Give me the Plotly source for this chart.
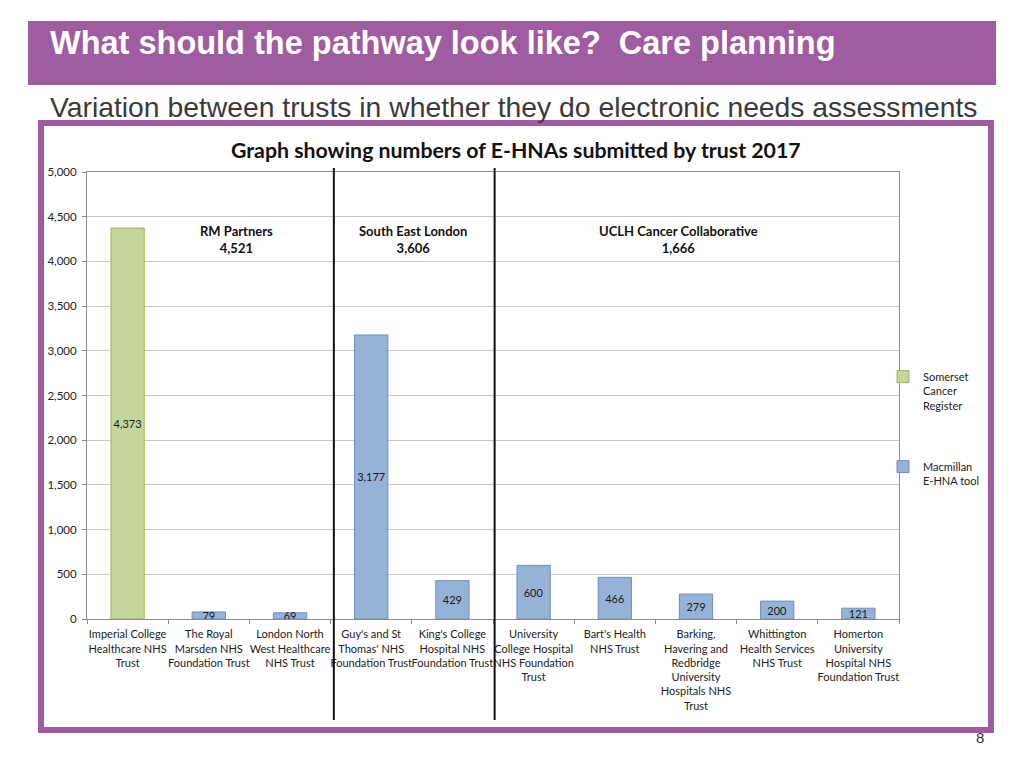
import plotly.graph_objects as go

categories = [
    "Imperial College<br>Healthcare NHS<br>Trust",
    "The Royal<br>Marsden NHS<br>Foundation Trust",
    "London North<br>West Healthcare<br>NHS Trust",
    "Guy's and St<br>Thomas' NHS<br>Foundation Trust",
    "King's College<br>Hospital NHS<br>Foundation Trust",
    "University<br>College Hospital<br>NHS Foundation<br>Trust",
    "Bart's Health<br>NHS Trust",
    "Barking,<br>Havering and<br>Redbridge<br>University<br>Hospitals NHS<br>Trust",
    "Whittington<br>Health Services<br>NHS Trust",
    "Homerton<br>University<br>Hospital NHS<br>Foundation Trust",
]
somerset = [4373, None, None, None, None, None, None, None, None, None]
macmillan = [None, 79, 69, 3177, 429, 600, 466, 279, 200, 121]

groups = ["RM Partners", "South East London", "UCLH Cancer Collaborative"]
group_totals = ["4,521", "3,606", "1,666"]
group_label_x = [1.335, 3.51, 6.79]
group_dividers = [2.54, 4.52]

yticks = [0, 500, 1000, 1500, 2000, 2500, 3000, 3500, 4000, 4500, 5000]

PURPLE = "#A05CA0"
OFF = 8  # page body margin
W, H = 1024 - OFF, 768 - OFF
# plot area in screen (reference) pixels
SL, SR, ST, SB = 87, 899, 172, 619


def px2x(px):
    return (px - SL) / (SR - SL)


def py2y(py):
    return (SB - py) / (SB - ST)


def fmt(v):
    return "" if v is None else f"{v:,}"


fig = go.Figure()
fig.add_trace(go.Bar(
    x=categories, y=somerset, name="Somerset<br>Cancer<br>Register",
    marker=dict(color="#C3D69B", line=dict(color="#98B954", width=1)),
    width=0.41, text=[fmt(v) for v in somerset], textposition="inside",
    insidetextanchor="middle", textangle=0,
    textfont=dict(family="Lato", size=11, color="#1a1a1a"),
    legend="legend", showlegend=True,
))
fig.add_trace(go.Bar(
    x=categories, y=macmillan, name="Macmillan<br>E-HNA tool",
    marker=dict(color="#95B3D7", line=dict(color="#6F8FC0", width=1)),
    width=0.41, text=[fmt(v) for v in macmillan], textposition="inside",
    insidetextanchor="middle", textangle=0,
    textfont=dict(family="Lato", size=11, color="#1a1a1a"),
    legend="legend2", showlegend=True,
))

shapes = [
    dict(type="rect", xref="paper", yref="paper",
         x0=px2x(28), x1=px2x(996), y0=py2y(85), y1=py2y(21),
         fillcolor=PURPLE, line=dict(width=0), layer="below"),
    dict(type="rect", xref="paper", yref="paper",
         x0=px2x(41), x1=px2x(991), y0=py2y(730), y1=py2y(123),
         fillcolor="rgba(0,0,0,0)", line=dict(color=PURPLE, width=6), layer="below"),
]
for xd in group_dividers:
    shapes.append(dict(type="line", xref="x", yref="paper",
                       x0=xd, x1=xd, y0=py2y(720), y1=py2y(168),
                       line=dict(color="#111111", width=2)))

annotations = [
    dict(text="<b>What should the pathway look like?\u00a0 Care planning</b>",
         xref="paper", yref="paper", x=px2x(48), y=py2y(43),
         xanchor="left", yanchor="middle", showarrow=False,
         font=dict(family="Liberation Sans", size=32.5, color="white")),
    dict(text="Variation between trusts in whether they do electronic needs assessments",
         xref="paper", yref="paper", x=px2x(48), y=py2y(107),
         xanchor="left", yanchor="middle", showarrow=False,
         font=dict(family="Liberation Sans", size=28.3, color="#3A3A3A")),
    dict(text="<b>Graph showing numbers of E-HNAs submitted by trust 2017</b>",
         xref="paper", yref="paper", x=px2x(516), y=py2y(150),
         xanchor="center", yanchor="middle", showarrow=False,
         font=dict(family="Lato", size=21.3, color="#111111")),
    dict(text="8", xref="paper", yref="paper", x=px2x(980), y=py2y(737),
         xanchor="center", yanchor="middle", showarrow=False,
         font=dict(family="Liberation Sans", size=15, color="#333333")),
]
for gx, gname, gtot in zip(group_label_x, groups, group_totals):
    annotations.append(dict(
        text=f"<b>{gname}<br>{gtot}</b>", x=gx, y=4240, xref="x", yref="y",
        xanchor="center", yanchor="middle", showarrow=False,
        font=dict(family="Lato", size=13, color="#111111")))

fig.update_layout(
    width=W, height=H, autosize=False,
    margin=dict(l=SL - OFF, r=W - (SR - OFF), t=ST - OFF, b=H - (SB - OFF), pad=0),
    paper_bgcolor="white", plot_bgcolor="white",
    barmode="relative", bargap=0.59, showlegend=True,
    uniformtext=dict(minsize=11, mode="show"),
    shapes=shapes, annotations=annotations,
    font=dict(family="Lato", size=11, color="#222222"),
    legend=dict(x=px2x(883), y=py2y(363), xanchor="left", yanchor="top",
                valign="top", bgcolor="rgba(0,0,0,0)",
                font=dict(family="Lato", size=11, color="#222222")),
    legend2=dict(x=px2x(883), y=py2y(453), xanchor="left", yanchor="top",
                 valign="top", bgcolor="rgba(0,0,0,0)",
                 font=dict(family="Lato", size=11, color="#222222")),
    xaxis=dict(type="category", showline=True, linecolor="#8C8C8C", linewidth=1,
               mirror=True, ticks="outside", tickson="boundaries", ticklen=4,
               tickcolor="#8C8C8C", showgrid=False, tickangle=0,
               ticklabelstandoff=5,
               tickfont=dict(family="Lato", size=11, color="#222222")),
    yaxis=dict(range=[0, 5000], tickvals=yticks, tickformat=",", showline=True,
               linecolor="#8C8C8C", linewidth=1, mirror=True, ticks="outside",
               ticklen=4, tickcolor="#8C8C8C", gridcolor="#C8C8C8", gridwidth=1,
               zeroline=False, ticklabelstandoff=3,
               tickfont=dict(family="Lato", size=11.5, color="#222222")),
)

fig.write_html("out.html")
